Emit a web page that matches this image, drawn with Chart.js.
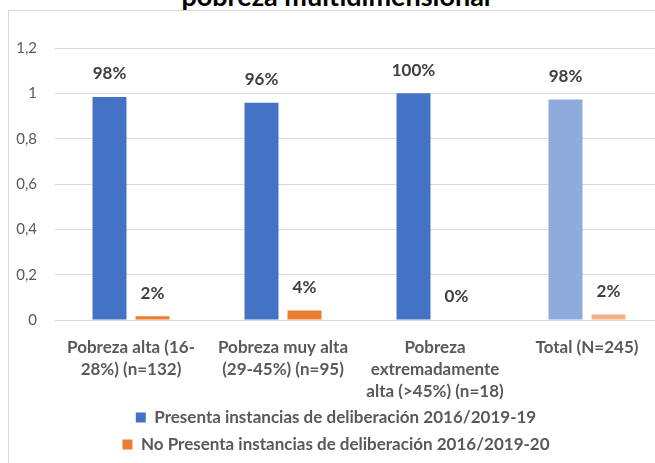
<!DOCTYPE html>
<html>
<head>
<meta charset="utf-8">
<script src="https://cdn.jsdelivr.net/npm/chart.js@4.4.1/dist/chart.umd.min.js"></script>
<style>
  html, body { margin: 0; padding: 0; width: 655px; height: 463px; overflow: hidden; background: #fff; }
  #title {
    position: absolute; left: 0; top: -19px; width: 672px; text-align: center;
    font: bold 27px Lato, sans-serif; line-height: 30px; color: #000; white-space: nowrap;
  }
  #frame {
    position: absolute; left: 8px; top: 10px; width: 700px; height: 520px;
    border: 1px solid #d9d9d9;
  }
  #wrap { position: absolute; left: 9px; top: 11px; width: 654px; height: 452px; }
</style>
</head>
<body>
<div id="title">pobreza multidimensional</div>
<div id="frame"></div>
<div id="wrap"><canvas id="chart"></canvas></div>
<script>
// categories
const categories = [
    ['Pobreza alta (16-', '28%) (n=132)'],
    ['Pobreza muy alta', '(29-45%) (n=95)'],
    ['Pobreza', 'extremadamente', 'alta (>45%) (n=18)'],
    'Total (N=245)'
];

// series
const presentaLabel = 'Presenta instancias de deliberación 2016/2019-19';
const presentaValues = [0.984, 0.958, 1.0, 0.973];
const presentaText = ['98%', '96%', '100%', '98%'];

const noPresentaLabel = 'No Presenta instancias de deliberación 2016/2019-20';
const noPresentaValues = [0.016, 0.042, 0, 0.024];
const noPresentaText = ['2%', '4%', '0%', '2%'];

// y axis tick labels
const yTicks = ['0', '0,2', '0,4', '0,6', '0,8', '1', '1,2'];

const labelTexts = [presentaText, noPresentaText];

// bar value labels
const valueLabels = {
    id: 'valueLabels',
    afterDatasetsDraw(chart) {
        const ctx = chart.ctx;
        ctx.save();
        ctx.font = 'bold 17px Lato, sans-serif';
        ctx.fillStyle = '#404040';
        ctx.textAlign = 'center';
        ctx.textBaseline = 'middle';
        chart.data.datasets.forEach((ds, i) => {
            chart.getDatasetMeta(i).data.forEach((bar, j) => {
                ctx.fillText(labelTexts[i][j], bar.x, bar.y - 23);
            });
        });
        ctx.restore();
    }
};

new Chart(document.getElementById('chart'), {
    type: 'bar',
    data: {
        labels: categories,
        datasets: [{
            label: presentaLabel,
            data: presentaValues,
            backgroundColor: c => c.dataIndex === 3 ? '#8faadc' : '#4472c4'
        }, {
            label: noPresentaLabel,
            data: noPresentaValues,
            backgroundColor: c => c.dataIndex === 3 ? '#f4b183' : '#ed7d31'
        }]
    },
    options: {
        responsive: true,
        maintainAspectRatio: false,
        animation: false,
        categoryPercentage: 0.566,
        barPercentage: 0.79,
        layout: { padding: { top: 37, right: 0, bottom: 0, left: 0 } },
        plugins: {
            legend: {
                position: 'bottom',
                labels: {
                    boxWidth: 10,
                    boxHeight: 10,
                    padding: 10,
                    color: '#595959',
                    font: { family: 'Lato, sans-serif', size: 17, weight: 'bold' }
                }
            },
            tooltip: { enabled: false }
        },
        scales: {
            y: {
                min: 0,
                max: 1.2,
                ticks: {
                    stepSize: 0.2,
                    padding: 18,
                    color: '#595959',
                    font: { family: 'Lato, sans-serif', size: 15 },
                    callback: (v, i) => yTicks[i]
                },
                grid: { color: '#d9d9d9', drawTicks: false },
                border: { display: false },
                afterFit: s => { s.width = 46; }
            },
            x: {
                ticks: {
                    padding: 8,
                    maxRotation: 0,
                    autoSkip: false,
                    color: '#595959',
                    font: { family: 'Lato, sans-serif', size: 17, weight: 'bold', lineHeight: 1.3 }
                },
                grid: { display: false },
                border: { color: '#d9d9d9' },
                afterFit: s => { s.height = 79; }
            }
        }
    },
    plugins: [valueLabels]
});
</script>
</body>
</html>
